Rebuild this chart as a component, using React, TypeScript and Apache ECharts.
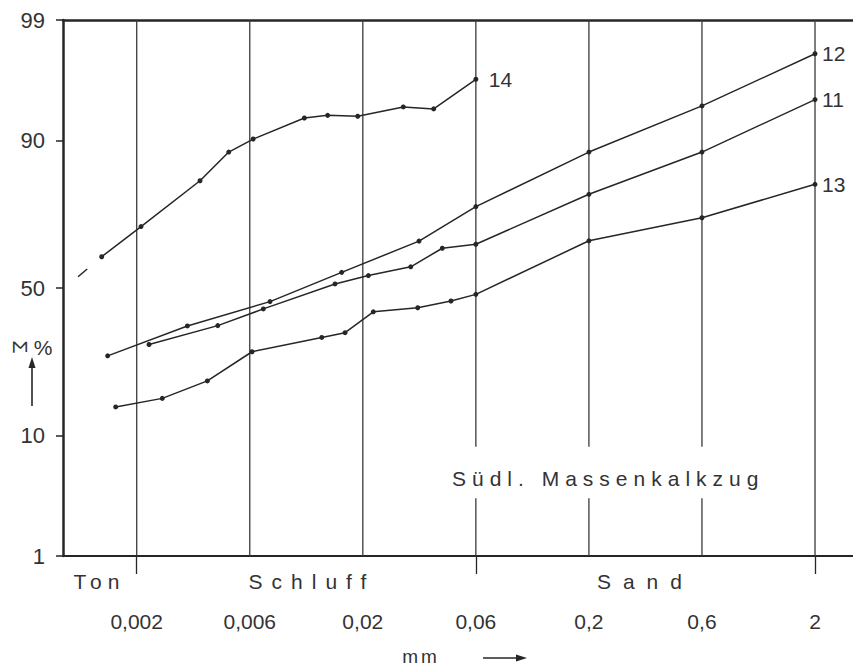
import React, { useEffect, useRef } from "react";
import * as echarts from "echarts";

// x: position on the equally spaced grain-size scale (0 = 0,002 mm, 1 = 0,006 mm, ... 6 = 2 mm)
// y: cumulative percentage (probability scale)
const sizeTicks = ["0,002", "0,006", "0,02", "0,06", "0,2", "0,6", "2"];
const sizeTickPos = [0, 1, 2, 3, 4, 5, 6];
const yTicks = [1, 10, 50, 90, 99];
const classNames = ["Ton", "Schluff", "Sand"];
const classCenters = [-0.33, 1.55, 4.5];
const classBounds = [0, 3, 6];

const s14x = [-0.31, 0.038, 0.56, 0.814, 1.03, 1.483, 1.689, 1.955, 2.358, 2.627, 3.0];
const s14y = [60.7, 70.3, 82.4, 88.1, 90.2, 93.0, 93.3, 93.2, 94.2, 94.0, 96.5];
const s14extX = [-0.519, -0.31];
const s14extY = [53.9, 60.7];

const s12x = [-0.257, 0.448, 1.179, 1.813, 2.497, 3.0, 4.0, 5.0, 6.0];
const s12y = [27.8, 37.1, 45.3, 55.4, 65.8, 76.0, 88.1, 94.3, 97.9];

const s11x = [0.109, 0.717, 1.12, 1.754, 2.049, 2.424, 2.703, 3.0, 4.0, 5.0, 6.0];
const s11y = [31.2, 37.2, 42.8, 51.4, 54.3, 57.3, 63.5, 64.8, 79.2, 88.1, 94.9];

const s13x = [-0.186, 0.226, 0.625, 1.02, 1.637, 1.843, 2.093, 2.486, 2.78, 3.0, 4.0, 5.0, 6.0];
const s13y = [15.1, 16.9, 21.0, 29.0, 33.4, 34.9, 41.8, 43.2, 45.5, 47.8, 65.9, 72.9, 81.6];

function probit(p: number): number {
  const a = [-3.969683028665376e1, 2.209460984245205e2, -2.759285104469687e2, 1.38357751867269e2, -3.066479806614716e1, 2.506628277459239];
  const b = [-5.447609879822406e1, 1.615858368580409e2, -1.556989798598866e2, 6.680131188771972e1, -1.328068155288572e1];
  const c = [-7.784894002430293e-3, -3.223964580411365e-1, -2.400758277161838, -2.549732539343734, 4.374664141464968, 2.938163982698783];
  const d = [7.784695709041462e-3, 3.224671290700398e-1, 2.445134137142996, 3.754408361269135];
  const pl = 0.02425;
  let q: number, r: number;
  if (p < pl) {
    q = Math.sqrt(-2 * Math.log(p));
    return (((((c[0] * q + c[1]) * q + c[2]) * q + c[3]) * q + c[4]) * q + c[5]) / ((((d[0] * q + d[1]) * q + d[2]) * q + d[3]) * q + 1);
  }
  if (p <= 1 - pl) {
    q = p - 0.5;
    r = q * q;
    return ((((((a[0] * r + a[1]) * r + a[2]) * r + a[3]) * r + a[4]) * r + a[5]) * q) / (((((b[0] * r + b[1]) * r + b[2]) * r + b[3]) * r + b[4]) * r + 1);
  }
  q = Math.sqrt(-2 * Math.log(1 - p));
  return -(((((c[0] * q + c[1]) * q + c[2]) * q + c[3]) * q + c[4]) * q + c[5]) / ((((d[0] * q + d[1]) * q + d[2]) * q + d[3]) * q + 1);
}
const Z = (pct: number) => probit(pct / 100);

const FONT = "'Liberation Sans', Arial, sans-serif";
const INK = "#262626";
const TXT = "#333333";

const letterSpacing: Record<string, number> = {
  Ton: 6,
  Schluff: 9,
  Sand: 12,
  "Südl. Massenkalkzug": 6,
  mm: 3,
};

function pairs(xs: number[], ys: number[]) {
  return xs.map((x, i) => [x, Z(ys[i])]);
}

export default function App() {
  const ref = useRef<HTMLDivElement>(null);
  useEffect(() => {
    if (!ref.current) return;
    const chart = echarts.init(ref.current, null, { renderer: "svg" });
    const xMin = -0.652;
    const xMax = 6.336;
    const yMin = Z(yTicks[0]);
    const yMax = Z(yTicks[yTicks.length - 1]);
    const gapTop = Z(8.4);
    const gapBottom = Z(3.4);
    const gridSegs: number[][] = [];
    sizeTickPos.forEach((x) => {
      if (x >= 3 && x <= 5) {
        gridSegs.push([x, gapTop, yMax]);
        gridSegs.push([x, yMin, gapBottom]);
      } else {
        gridSegs.push([x, yMin, yMax]);
      }
    });
    const lineSeries = (name: string, xs: number[], ys: number[], dist: number) => ({
      type: "line",
      name,
      data: pairs(xs, ys),
      symbol: "circle",
      symbolSize: 5,
      silent: true,
      lineStyle: { color: INK, width: 1.5 },
      itemStyle: { color: INK },
      emphasis: { disabled: true },
      endLabel: {
        show: true,
        formatter: name,
        distance: dist,
        color: TXT,
        fontSize: 21,
        fontFamily: FONT,
      },
      z: 3,
    });
    const option: any = {
      animation: false,
      grid: { left: 63, top: 20, right: 0, bottom: 111, containLabel: false },
      xAxis: [
        {
          type: "value",
          min: xMin,
          max: xMax,
          position: "bottom",
          axisLine: { show: true, onZero: false, lineStyle: { color: INK, width: 2.2 } },
          axisTick: { show: false },
          splitLine: { show: false },
          axisLabel: {
            customValues: sizeTickPos,
            formatter: (v: number) => sizeTicks[Math.round(v)],
            margin: 55,
            fontSize: 21,
            fontFamily: FONT,
            color: TXT,
          },
        },
        {
          type: "value",
          min: xMin,
          max: xMax,
          position: "bottom",
          axisLine: { show: false, onZero: false },
          axisTick: {
            show: true,
            customValues: classBounds,
            length: 18,
            lineStyle: { color: INK, width: 1.3 },
          },
          splitLine: { show: false },
          axisLabel: {
            customValues: classCenters,
            formatter: (v: number) => {
              let best = 0;
              classCenters.forEach((c, i) => {
                if (Math.abs(c - v) < Math.abs(classCenters[best] - v)) best = i;
              });
              return classNames[best];
            },
            margin: 15,
            fontSize: 21,
            fontFamily: FONT,
            color: TXT,
          },
        },
        {
          type: "value",
          min: xMin,
          max: xMax,
          position: "top",
          axisLine: { show: true, onZero: false, lineStyle: { color: INK, width: 2.5 } },
          axisTick: { show: false },
          axisLabel: { show: false },
          splitLine: { show: false },
        },
      ],
      yAxis: [
        {
          type: "value",
          min: yMin,
          max: yMax,
          position: "left",
          axisLine: { show: true, onZero: false, lineStyle: { color: INK, width: 2.5 } },
          axisTick: {
            show: true,
            customValues: yTicks.map(Z),
            length: 7,
            lineStyle: { color: INK, width: 1.5 },
          },
          splitLine: { show: false },
          axisLabel: {
            customValues: yTicks.map(Z),
            formatter: (v: number) => {
              let best = 0;
              yTicks.forEach((t, i) => {
                if (Math.abs(Z(t) - v) < Math.abs(Z(yTicks[best]) - v)) best = i;
              });
              return String(yTicks[best]);
            },
            margin: 18,
            fontSize: 22,
            fontFamily: FONT,
            color: TXT,
          },
        },
      ],
      series: [
        {
          type: "custom",
          silent: true,
          data: gridSegs,
          encode: { x: 0, y: 1 },
          renderItem: (params: any, api: any) => {
            const x = api.value(0);
            const a = api.coord([x, api.value(1)]);
            const b = api.coord([x, api.value(2)]);
            return {
              type: "line",
              shape: { x1: a[0], y1: a[1], x2: b[0], y2: b[1] },
              style: { stroke: "#3a3a3a", lineWidth: 1.3 },
            };
          },
          z: 1,
        },
        {
          type: "line",
          name: "14ext",
          data: pairs(s14extX, s14extY),
          symbol: "none",
          silent: true,
          lineStyle: { color: INK, width: 1.5, type: [12, 40] },
          emphasis: { disabled: true },
          z: 3,
        },
        lineSeries("14", s14x, s14y, 13),
        lineSeries("12", s12x, s12y, 7),
        lineSeries("11", s11x, s11y, 7),
        lineSeries("13", s13x, s13y, 7),
      ],
      graphic: [
        {
          type: "text",
          x: 452,
          y: 478,
          silent: true,
          style: {
            text: "Südl. Massenkalkzug",
            font: `21px ${FONT}`,
            fill: TXT,
            align: "left",
            verticalAlign: "middle",
            textAlign: "left",
            textVerticalAlign: "middle",
          },
        },
        {
          type: "text",
          x: 20,
          y: 347,
          rotation: -Math.PI / 2,
          silent: true,
          style: {
            text: "Σ",
            font: `21px ${FONT}`,
            fill: TXT,
            align: "center",
            verticalAlign: "middle",
            textAlign: "center",
            textVerticalAlign: "middle",
          },
        },
        {
          type: "text",
          x: 43,
          y: 347,
          silent: true,
          style: {
            text: "%",
            font: `21px ${FONT}`,
            fill: TXT,
            align: "center",
            verticalAlign: "middle",
            textAlign: "center",
            textVerticalAlign: "middle",
          },
        },
        {
          type: "line",
          silent: true,
          shape: { x1: 32, y1: 406, x2: 32, y2: 362 },
          style: { stroke: INK, lineWidth: 1.6 },
        },
        {
          type: "polygon",
          silent: true,
          shape: { points: [[32, 357], [28.5, 368], [35.5, 368]] },
          style: { fill: INK },
        },
        {
          type: "text",
          x: 421,
          y: 656,
          silent: true,
          style: {
            text: "mm",
            font: `19px ${FONT}`,
            fill: TXT,
            align: "center",
            verticalAlign: "middle",
            textAlign: "center",
            textVerticalAlign: "middle",
          },
        },
        {
          type: "line",
          silent: true,
          shape: { x1: 483, y1: 658, x2: 520, y2: 658 },
          style: { stroke: INK, lineWidth: 1.3 },
        },
        {
          type: "polygon",
          silent: true,
          shape: { points: [[527, 658], [516, 654.5], [516, 661.5]] },
          style: { fill: INK },
        },
      ],
    };
    chart.setOption(option);
    const applySpacing = () => {
      if (!ref.current) return;
      ref.current.querySelectorAll("text").forEach((t) => {
        const s = letterSpacing[(t.textContent || "").trim()];
        if (s) (t as SVGTextElement).style.letterSpacing = s + "px";
      });
    };
    applySpacing();
    chart.on("finished", applySpacing);
    const t1 = setTimeout(applySpacing, 0);
    const t2 = setTimeout(applySpacing, 100);
    return () => {
      clearTimeout(t1);
      clearTimeout(t2);
      chart.dispose();
    };
  }, []);
  return (
    <div
      ref={ref}
      style={{ position: "fixed", left: 0, top: 0, width: 853, height: 667, background: "#fff" }}
    />
  );
}
